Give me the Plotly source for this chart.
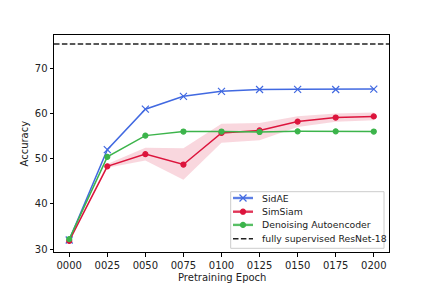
import plotly.graph_objects as go

epochs = ["0000", "0025", "0050", "0075", "0100", "0125", "0150", "0175", "0200"]
sidae = [32.0, 52.0, 60.95, 63.8, 64.9, 65.3, 65.35, 65.3, 65.4]
simsiam = [31.8, 48.3, 51.0, 48.7, 55.7, 56.25, 58.2, 59.1, 59.35]
simsiam_lo = [31.6, 48.0, 49.6, 45.35, 53.5, 54.05, 57.0, 58.15, 58.5]
simsiam_hi = [32.0, 48.8, 52.4, 52.3, 57.7, 57.9, 59.4, 60.0, 60.2]
dae = [32.2, 50.4, 55.1, 56.0, 56.0, 55.9, 56.05, 56.05, 56.0]
resnet18 = 75.4
legend_labels = ["SidAE", "SimSiam", "Denoising Autoencoder", "fully supervised ResNet-18"]

x = list(range(len(epochs)))
x_range = [-0.4, len(epochs) - 1 + 0.4]
y_range = [29.34, 77.37]

BLUE = "#4169E1"
RED = "#DC143C"
GREEN = "#3CB44B"
DARK = "#222222"
FONT = "DejaVu Sans"

# plot area in pixels
W, H = 432, 288
L, R, T, B = 54, 43, 35, 36
PW, PH = W - L - R, H - T - B


def px(xp):
    return (xp - L) / PW


def py(yp):
    return (H - B - yp) / PH


styles = [
    dict(color=BLUE, symbol="x-thin", size=7, dash="solid"),
    dict(color=RED, symbol="circle", size=5, dash="solid"),
    dict(color=GREEN, symbol="circle", size=5, dash="solid"),
    dict(color=DARK, symbol=None, size=0, dash="5.5px,2.4px"),
]

fig = go.Figure()

# SimSiam confidence band
fig.add_trace(go.Scatter(x=x, y=simsiam_hi, mode="lines", line=dict(width=0),
                         showlegend=False, hoverinfo="skip"))
fig.add_trace(go.Scatter(x=x, y=simsiam_lo, mode="lines", line=dict(width=0),
                         fill="tonexty", fillcolor="rgba(220,20,60,0.17)",
                         showlegend=False, hoverinfo="skip"))

series = [sidae, simsiam, dae]
for vals, st, name in zip(series, styles, legend_labels):
    fig.add_trace(go.Scatter(
        x=x, y=vals, mode="lines+markers", name=name, showlegend=False,
        line=dict(color=st["color"], width=1.5),
        marker=dict(symbol=st["symbol"], size=st["size"], color=st["color"],
                    line=dict(color=st["color"], width=1.2))))

fig.add_trace(go.Scatter(x=x_range, y=[resnet18, resnet18], mode="lines",
                         name=legend_labels[3], showlegend=False,
                         line=dict(color=DARK, width=1.5, dash=styles[3]["dash"]),
                         hoverinfo="skip"))

# ---- manual legend (matplotlib-like compact layout) ----
box_l, box_r, box_t, box_b = 230.7, 384.0, 191.7, 248.3
bx0, bx1, by0, by1 = px(box_l), px(box_r), py(box_b), py(box_t)
fig.add_trace(go.Scatter(
    x=[bx0, bx1, bx1, bx0, bx0], y=[by0, by0, by1, by1, by0], xaxis="x2", yaxis="y2",
    mode="lines", fill="toself", fillcolor="rgba(255,255,255,0.8)",
    line=dict(color="#cccccc", width=1), showlegend=False, hoverinfo="skip",
    cliponaxis=False))

row_y = [198.0, 211.7, 224.9, 238.8]
line_x0, line_x1, mark_x, text_x = 233.0, 253.0, 243.0, 259.5
for lab, st, yp in zip(legend_labels, styles, row_y):
    fig.add_trace(go.Scatter(
        x=[px(line_x0), px(line_x1)], y=[py(yp), py(yp)], xaxis="x2", yaxis="y2",
        mode="lines", showlegend=False, hoverinfo="skip", cliponaxis=False,
        line=dict(color=st["color"], width=2.4 if st["symbol"] else 1.5, dash=st["dash"]),
        opacity=0.85 if st["symbol"] else 1.0))
    if st["symbol"]:
        fig.add_trace(go.Scatter(
            x=[px(mark_x)], y=[py(yp)], xaxis="x2", yaxis="y2",
            mode="markers", showlegend=False, hoverinfo="skip", cliponaxis=False,
            marker=dict(symbol=st["symbol"], size=st["size"], color=st["color"],
                        line=dict(color=st["color"], width=1.2))))
    fig.add_annotation(x=px(text_x), y=py(yp), xref="paper", yref="paper",
                       text=lab, showarrow=False, xanchor="left", yanchor="middle",
                       font=dict(family=FONT, size=9.3, color=DARK))

# axis titles
fig.add_annotation(x=0.5, y=py(277), xref="paper", yref="paper", text="Pretraining Epoch",
                   showarrow=False, xanchor="center", yanchor="middle",
                   font=dict(family=FONT, size=10, color=DARK))
fig.add_annotation(x=px(24), y=0.5, xref="paper", yref="paper", text="Accuracy",
                   textangle=-90, showarrow=False, xanchor="center", yanchor="middle",
                   font=dict(family=FONT, size=10, color=DARK))

axis_common = dict(showline=True, linecolor="black", linewidth=1, mirror=True,
                   ticks="outside", ticklen=3.5, tickwidth=0.8, tickcolor="black",
                   showgrid=False, zeroline=False,
                   tickfont=dict(family=FONT, size=10, color=DARK))

fig.update_layout(
    width=W, height=H,
    margin=dict(l=L, r=R, t=T, b=B),
    paper_bgcolor="white", plot_bgcolor="white",
    font=dict(family=FONT, size=10, color=DARK),
    xaxis=dict(range=x_range, tickmode="array", tickvals=x, ticktext=epochs,
               **axis_common),
    yaxis=dict(range=y_range, tickmode="array", tickvals=[30, 40, 50, 60, 70],
               **axis_common),
    xaxis2=dict(overlaying="x", range=[0, 1], visible=False, fixedrange=True),
    yaxis2=dict(overlaying="y", range=[0, 1], visible=False, fixedrange=True),
    showlegend=False,
)

fig.write_html("out.html", config={"displayModeBar": False},
               post_script="document.body.style.margin='0';document.body.style.overflow='hidden';")
